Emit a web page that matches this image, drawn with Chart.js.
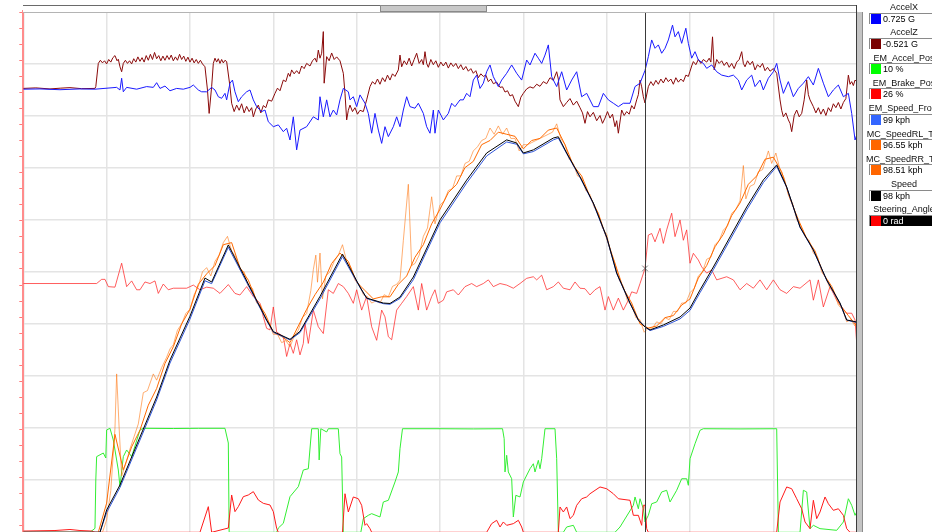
<!DOCTYPE html>
<html><head><meta charset="utf-8">
<script src="https://cdn.jsdelivr.net/npm/chart.js@4.4.1/dist/chart.umd.min.js"></script>
<style>
html,body{margin:0;padding:0;background:#fff;overflow:hidden;width:932px;height:532px;}
#wrap{position:relative;width:932px;height:532px;overflow:hidden;font-family:"Liberation Sans",Arial,sans-serif;}
#c{position:absolute;left:0;top:0;}
.hdr{position:absolute;left:23px;top:5px;width:834px;height:6px;border-top:1px solid #6a6a6a;border-bottom:1px solid #b4b4b4;background:#fff;}
.thumb{position:absolute;left:380px;top:5px;width:107px;height:7px;background:#c8c8c8;border:1px solid #8a8a8a;box-sizing:border-box;}
.rb{position:absolute;left:856px;top:5px;width:1px;height:530px;background:#3c3c3c;}
.sb{position:absolute;left:857px;top:12px;width:5px;height:520px;background:#c4c4c4;border-right:1px solid #8c8c8c;}
.lt{position:absolute;left:846px;width:116px;text-align:center;font-size:9px;color:#111;line-height:10px;white-space:nowrap;}
.lb{position:absolute;left:869px;width:80px;height:11px;background:#fff;border-top:1px solid #8a8a8a;border-left:1px solid #8a8a8a;box-sizing:border-box;}
.lb.dark{background:#000;}
.sq{position:absolute;left:1px;top:0px;width:10px;height:10px;}
.lv{position:absolute;left:13px;top:0px;font-size:9px;line-height:10px;color:#000;white-space:nowrap;}
.lb.dark .lv{color:#fff;}
</style></head>
<body><div id="wrap">
<canvas id="c" width="932" height="540"></canvas>
<div class="hdr"></div><div class="thumb"></div><div class="rb"></div><div class="sb"></div>
<div id="legend"></div>
</div>
<script>
// ---- DATA (time in seconds, 10 s per grid division) ----
const cursorTime = 74.6;
const cursorSteer = 0.29;

// Speed [kph]
const speedSamples = [[0,0],[9.2,0],[10,10.7],[11.6,22.7],[14,45.7],[16,64.9],[17.6,82.6],[20,103.7],[21.8,122],[22.6,120.1],[24.6,137.9],[29.2,101.9],[30,96.3],[32,92.6],[33.2,96.4],[35.6,113.2],[38.3,133.5],[40.4,117.7],[41.2,112.4],[43.2,110],[44,109.8],[45.2,112.9],[46.8,122.5],[50,149.9],[53.2,169],[55.6,182],[58,188.3],[59.2,186.8],[60,182],[61.2,183.5],[63.6,189.2],[64.2,189.8],[65.2,182],[66.8,170.6],[68.4,158],[70,141.7],[71.2,124.4],[72.8,110],[73.8,101.9],[74.6,98.5],[75.2,97.1],[76.8,99.5],[78.8,103.3],[80,107.6],[81.2,116.3],[82.8,127.3],[84.8,141.7],[86.8,156.1],[88.8,169.1],[90.4,176.3],[91.6,165.7],[93.2,146.5],[94.8,135.5],[96.4,121.1],[98,110],[98.8,101.9],[100,100.9]];

// EM_Speed_Front [kph]
const emSpeedSamples = [[0,0],[9.2,0],[10,9.5],[11.6,21.5],[14,44.3],[16,63.5],[17.6,81.2],[20,102.3],[21.8,120.7],[22.6,119.3],[24.6,136.8],[29.2,101.6],[30,96],[32,92.3],[33.2,95.8],[35.6,112],[38.3,132.3],[40.4,117.5],[41.2,112.2],[43.2,109.7],[44,109.4],[45.2,112.2],[46.8,121.2],[50,148.5],[53.2,167.6],[55.6,180.6],[58,187.3],[59.2,186.2],[60,181.6],[61.2,182.7],[63.6,188.3],[64.2,189.2],[65.2,181.7],[66.8,170.3],[68.4,157.7],[70,141.4],[71.2,124.2],[72.8,109.8],[73.8,101.8],[74.6,98.6],[75.2,96.8],[76.8,98.8],[78.8,102.4],[80,106.5],[81.2,115],[82.8,126],[84.8,140.3],[86.8,154.7],[88.8,167.8],[90.4,175.6],[91.6,165.5],[93.2,146.3],[94.8,135.3],[96.4,120.9],[98,109.8],[98.8,101.8],[100,100.7]];

// MC_SpeedRR_TM [kph], one sample per second
const speedRR = [0,0,0,0,0,0,0,0,0,0,
 14,47,30,41,49,61,69,81,89,100,
 107,119,124,128,138,139,127,121,111,105,
 96,94,91,99,107,114,120,129,134,130,
 120,116,112,113,113,119,123,132,138,148,
 155,163,167,175,178,186,188,192,191,190,
 184,188,189,193,194,186,176,171,161,153,
 141,129,117,110,100,98,99,103,104,109,
 112,122,128,137,143,152,158,167,171,179,
 180,173,160,150,141,135,124,118,109,104,
 99];

// MC_SpeedRL_TM [kph]
const speedRLSamples = [[0,0],[9.5,0],[10,6],[10.5,20],[11,50],[11.2,76],[11.5,50],[11.8,27],[12.3,33],[12.8,40],[13.3,46],[13.8,52],[14.4,67],[14.9,68],[15.6,76],[16,73],[16.6,79],[17.2,84],[17.6,88],[18,90],[18.5,97],[19,100],[19.5,105],[20,107],[20.5,114],[21,118],[21.5,125],[22,127],[22.5,123],[23,130],[23.5,133],[24,139],[24.5,142],[25,135],[25.5,132],[26,126],[26.5,125],[27,118],[27.5,117],[28,110],[28.5,109],[29,103],[29.5,100],[30,95],[30.5,95],[31,91],[31.5,92],[32,89],[32.5,94],[33,97],[33.5,103],[34,105],[34.5,116],[34.8,126],[35.1,133],[35.3,120],[35.6,134],[35.9,112],[36.3,123],[36.8,125],[37.3,130],[37.8,133],[38.3,138],[38.8,130],[39.3,127],[39.8,121],[40.3,119],[40.8,114],[41.3,113],[41.8,110],[42.3,111],[42.8,110],[43.3,114],[43.8,113],[44.3,118],[44.8,119],[45.2,121],[45.6,140],[46.2,167],[46.6,128],[47,129],[47.5,133],[48,142],[48.5,146],[49,161],[49.4,148],[50,157],[50.5,159],[51,164],[51.5,165],[52,171],[52.5,171],[53,177],[53.5,178],[54,183],[54.5,185],[55,188],[55.5,189],[56,194],[56.5,191],[57,195],[57.5,191],[58,194],[58.5,189],[59,189],[59.5,183],[60,186],[60.5,186],[61,187],[61.5,188],[62,189],[62.5,190],[63,191],[63.5,192],[64,196],[64.5,189],[65,186],[65.5,179],[66,177],[66.5,171],[67,170],[67.5,164],[68,162],[68.5,156],[69,153],[69.5,146],[70,143],[70.5,134],[71,129],[71.5,121],[72,118],[72.5,111],[73,109],[73.5,103],[74,102],[74.5,96],[75,98],[75.5,98],[76,101],[76.5,100],[77,103],[77.5,102],[78,106],[78.5,106],[79,110],[79.5,110],[80,115],[80.5,117],[81,123],[81.5,125],[82,131],[82.5,132],[83,138],[83.5,140],[84,145],[84.5,147],[85,153],[85.5,155],[86,159],[86.4,176],[86.7,160],[87.2,166],[87.7,167],[88.2,173],[88.7,174],[89.1,179],[89.4,183],[89.8,177],[90.3,182],[90.8,174],[91.3,170],[91.8,162],[92.3,158],[92.8,150],[93.3,147],[93.8,142],[94.3,140],[94.8,134],[95.3,132],[95.8,125],[96.3,122],[96.8,117],[97.3,115],[97.8,109],[98.3,107],[98.8,101],[99.3,102],[99.8,99],[100,101]];

// EM_Accel_Pos [%]
const accelPosSamples = [[0,0],[8,0],[8.6,3.8],[8.7,50.2],[8.8,72.6],[9.6,76.1],[9.9,71.3],[10,98.2],[10.4,99.8],[10.8,88.6],[11.4,59.8],[11.6,43.8],[12,72.6],[12.4,79],[13,72.6],[14,98.2],[14.4,99.8],[18,99.6],[21,99.8],[24.2,99.8],[24.6,85.7],[24.7,0],[30.4,0],[30.6,4.1],[31.2,8.6],[32,34.2],[33,43.8],[33.6,59.8],[34.2,61],[34.6,99.4],[35.4,99.4],[35.5,69.4],[35.7,99.4],[36.4,96.3],[36.6,99.4],[37.8,99.4],[38,75.4],[38.2,72.3],[38.3,35.8],[38.4,0],[40.5,0],[40.8,13.1],[41.4,16.3],[41.8,17.9],[42.8,14.7],[43.2,29.1],[43.8,30.7],[44.6,48.3],[45,57.9],[45.2,80.2],[45.5,99.4],[50,99.4],[54,99.2],[57.5,99.4],[57.7,89.8],[57.8,57.9],[58,73.9],[58.2,57.9],[58.6,51.4],[58.8,14.7],[59.1,35.5],[59.6,33.9],[60,48.3],[60.8,61],[61.2,65.8],[61.4,57.9],[61.8,69.1],[62,61],[62.2,70.6],[62.6,99.4],[63.8,99.4],[64,70.6],[64.2,0],[64.8,0],[65.2,5.1],[66,6.7],[66.4,0],[71,0],[71.6,5.1],[73.2,25.9],[73.4,33.9],[73.8,22.6],[74,32.2],[74.4,22.6],[74.6,10],[75,16.3],[75.4,27.4],[76,29.1],[76.6,38.7],[77.2,40.3],[77.6,29.1],[78.4,40.3],[79,51.4],[79.6,51.4],[79.8,45.1],[80,70.6],[80.6,85],[81.2,97.9],[81.6,99.4],[86,99.2],[90.4,99.4],[90.6,0],[93.2,0],[93.6,40.3],[94,38.7],[94.4,3.5],[94.8,6.7],[95.6,3.5],[97.6,1.9],[98.4,9.9],[99,32.2],[99.4,25.9],[99.8,16.3],[100,19.5]];

// EM_Brake_Pos [%]
const brakePosSamples = [[0,1.2],[3.8,1.7],[5.6,2.7],[6.8,1.7],[8.2,1.2],[8.6,0],[21.2,0],[22.2,24.6],[22.6,0],[24.6,4.1],[25,35.8],[25.4,19.8],[25.8,24.6],[26.4,34.2],[27,35.8],[27.6,39],[28.2,31],[28.8,27.8],[29.6,26.2],[30,19.8],[30.4,3.8],[30.6,0],[38.3,0],[38.6,37],[39,19.5],[39.6,33.9],[40.2,32.2],[40.6,25.9],[41,6.7],[41.2,8.3],[41.6,3.5],[41.8,0],[55.6,0],[56.2,8.3],[56.8,11.5],[57.2,5.1],[57.6,9.9],[58,6.7],[58.8,8.3],[59.4,11.5],[59.8,5.1],[60,0],[64.2,0],[64.4,24.3],[64.8,19.5],[65.2,24.3],[65.6,13.1],[66,16.3],[66.4,25.9],[67,32.2],[67.6,33.9],[68,37],[69.2,43.5],[70,41.8],[70.8,37],[71.4,32.2],[72.8,30.7],[73.2,16.3],[73.8,16.3],[74.2,6.7],[74.4,25.9],[74.6,26],[74.8,3.5],[75,0],[90.4,0],[90.8,29.1],[91.6,43.5],[92.2,41.8],[92.8,32.2],[93.4,22.6],[93.8,9.9],[94.4,3.5],[94.8,30.7],[95.2,13.1],[95.6,19.5],[96.2,33.9],[96.6,27.4],[97.2,21.1],[97.8,22.6],[98.4,16.3],[98.8,3.5],[99.2,0],[100,0]];

// Steering_Angle [rad]
const steerSamples = [[0,0],[8.8,0],[9.4,0.08],[9.8,0.08],[10.2,-0.06],[11,-0.07],[11.8,0.39],[12.4,-0.06],[13,0.05],[13.6,-0.12],[14,-0.12],[14.6,0.03],[15.2,0],[15.8,0.05],[16.2,-0.19],[16.8,-0.01],[17.4,-0.12],[18,-0.09],[19.6,-0.09],[20.4,-0.03],[21.2,-0.12],[22,-0.07],[22.8,-0.09],[23.6,-0.19],[24.6,-0.02],[25.4,-0.19],[26,-0.22],[26.8,-0.06],[27.6,-0.25],[28.4,-0.38],[28.8,-0.64],[29.2,-0.86],[29.6,-0.89],[30,-0.45],[30.4,-0.93],[31.2,-1.02],[31.6,-1.4],[32,-1.15],[32.4,-1.34],[32.8,-1.08],[33.2,-1.37],[33.6,-1.15],[33.8,-0.76],[34.2,-1.15],[34.8,-0.51],[35.4,-0.83],[36,-0.96],[36.6,-0.12],[37.2,-0.19],[37.8,0],[38.4,-0.06],[39,-0.19],[39.6,-0.38],[40,-0.12],[40.6,-0.51],[41.2,-0.25],[41.8,-0.83],[42.4,-1.09],[43,-0.51],[43.4,-0.64],[43.8,-1.02],[44.2,-1.08],[44.8,-0.51],[45.4,-0.38],[46,-0.25],[46.8,-0.06],[47.4,-0.51],[47.8,0],[48.4,-0.51],[49,-0.25],[49.4,-0.12],[49.8,-0.38],[50.4,-0.32],[50.8,-0.16],[51.6,-0.12],[52.2,-0.22],[53,-0.06],[53.8,0],[54.4,-0.06],[55.2,0],[55.8,0.07],[56.4,-0.06],[57.2,0],[58,-0.03],[58.8,-0.09],[59.6,0],[60.4,0.1],[61.2,0.13],[61.6,0.07],[62.2,0.16],[62.8,-0.12],[63.6,-0.06],[64.2,0.03],[64.8,-0.09],[65.6,-0.12],[66.2,0.03],[66.8,-0.09],[67.4,-0.1],[68,-0.22],[68.6,-0.12],[69.2,-0.06],[69.8,-0.51],[70.2,-0.25],[70.8,-0.51],[71.4,-0.28],[72,-0.51],[72.6,-0.32],[73,-0.16],[73.6,-0.19],[74,0],[74.6,0.29],[75,0.93],[75.4,0.96],[75.8,0.8],[76.4,1.06],[76.8,0.77],[77.2,1.03],[77.8,1.35],[78.2,0.9],[78.8,1.22],[79.2,0.83],[79.6,1.03],[80,0.39],[80.4,0.58],[81,0.45],[81.4,0.32],[82,0.2],[82.6,0.26],[83.2,0.07],[84.4,0.13],[85.2,0.07],[86,-0.12],[86.8,0],[87.6,-0.09],[88.4,0.07],[89.2,-0.12],[90,0.07],[90.8,-0.12],[91.6,-0.19],[92.4,-0.06],[93.2,-0.09],[94.4,0.07],[94.8,-0.32],[95.4,0.07],[96,-0.45],[96.8,-0.06],[97.6,-0.32],[98.2,-0.45],[98.8,-0.57],[99.4,-0.57],[99.8,-0.7],[100,-1.14]];

// AccelX [G]
const accelXSamples = [[0,0.01],[2,0.02],[4.4,-0.01],[6.8,0.02],[8.6,0.01],[11.2,0.08],[11.6,-0.02],[11.8,0.43],[12,-0.09],[12.4,0.08],[13.6,0.01],[14.8,0.11],[15.6,0.08],[16,0.26],[16.4,0.04],[17,0.13],[17.6,-0.05],[18.4,0.04],[19.2,0.01],[20,0.08],[20.4,0.17],[21,-0.02],[21.4,-0.09],[22,-0.09],[22.6,0.08],[23,-0.02],[23.4,-0.28],[23.8,-0.34],[24.2,-0.15],[24.4,-0.4],[24.8,0.24],[25.1,0.36],[25.4,-0.09],[25.8,-0.47],[26.2,-0.28],[26.8,-0.09],[27.2,-0.02],[27.6,-0.4],[28,-0.66],[28.6,-0.85],[29,-0.79],[29.4,-1.24],[30,-1.43],[30.6,-1.36],[31.2,-1.62],[31.6,-1.49],[32,-1.94],[32.4,-1.05],[32.8,-2.32],[33.2,-1.56],[34,-1.43],[34.8,-1.05],[35.4,-1.17],[35.6,-0.28],[36,-1.05],[36.4,-0.4],[36.8,-1.05],[37.2,-0.79],[37.6,-0.98],[38,-0.4],[38.4,0.04],[39,-0.09],[39.2,-0.4],[39.6,-0.28],[40,-0.66],[40.4,-0.21],[41,-0.53],[41.4,-0.92],[41.8,-1.68],[42.2,-0.92],[42.6,-1.56],[43,-2.07],[43.4,-1.43],[43.8,-1.81],[44.4,-1.43],[44.8,-1.05],[45.2,-1.43],[45.6,-0.79],[46,-0.28],[46.4,-0.66],[47,-0.72],[47.4,-0.53],[48,-0.92],[48.4,-1.43],[48.8,-1.68],[49.2,-0.79],[49.4,-1.68],[49.8,-0.79],[50.4,-1.17],[51,-0.92],[51.4,-0.53],[51.8,-0.66],[52.4,-0.4],[52.8,-0.4],[53.2,-0.15],[53.6,-0.28],[54,0.36],[54.4,0.55],[54.8,0.04],[55.2,0.24],[55.6,0.68],[56,0.94],[56.4,0.49],[57,0.11],[57.4,0.36],[58,0.62],[58.6,0.94],[59.2,0.62],[59.8,0.36],[60.4,1.13],[60.8,0.94],[61.4,1.39],[61.8,1.2],[62.2,1],[62.6,1.32],[63,1.71],[63.4,0.49],[64,0.11],[64.6,0.68],[65.2,-0.02],[65.8,0.36],[66.4,0.68],[67,-0.28],[67.6,-0.15],[68.4,-0.66],[69,-0.66],[69.6,-0.15],[70.2,-0.4],[70.8,-0.53],[71.4,-0.66],[72,-0.53],[72.8,-0.53],[73.4,0.11],[74,0.24],[74.6,0.73],[75,1.26],[75.4,1.9],[75.8,1.58],[76.2,1.71],[76.6,1.39],[77,1.58],[77.4,1.9],[77.9,2.47],[78.2,2.02],[78.6,2.22],[79,1.77],[79.5,2.35],[79.8,1.77],[80.2,1.2],[80.6,1.45],[81,1.13],[81.6,1],[82,0.81],[82.6,0.94],[83.2,0.68],[83.8,0.55],[84.6,0.49],[85.2,0.55],[85.8,0.36],[86.2,-0.02],[86.8,0.36],[87.4,0.55],[87.8,0.11],[88.4,0.36],[88.8,-0.02],[89.4,0.43],[90,0.68],[90.4,1],[90.8,0.36],[91.2,-0.15],[91.8,0.3],[92.4,-0.28],[93,0.04],[93.6,0.24],[94.2,0.49],[94.8,0.17],[95.4,0.81],[96,0.24],[96.6,-0.28],[97.2,-0.02],[97.8,0.17],[98.4,-0.28],[99,-0.15],[99.4,-0.92],[99.8,-1.94],[100,-1.75]];

// AccelZ [G]
const accelZSamples = [[0,0.04],[1.5,0.06],[3.2,0.02],[4.5,0.05],[5.6,0.07],[7,0.03],[8.6,0.04],[8.7,0.11],[9,1],[9.25,1.12],[9.5,1.02],[9.75,1.1],[10,0.98],[10.25,1.15],[10.5,1.05],[10.75,1.22],[11,1.3],[11.25,1.1],[11.4,1.16],[11.6,0.87],[11.8,0.68],[12,1],[12.25,1.12],[12.5,1],[12.75,1.1],[13,0.98],[13.25,1.18],[13.5,1.05],[13.75,1.25],[14,1.08],[14.25,1.22],[14.5,1.05],[14.75,1.3],[15,1.12],[15.25,1.35],[15.5,1.15],[15.75,1.42],[16,1.18],[16.25,1.3],[16.5,1.1],[16.75,1.28],[17,1.12],[17.25,1.3],[17.5,1.15],[17.75,1.32],[18,1.1],[18.25,1.25],[18.5,1.12],[18.75,1.35],[19,1.15],[19.25,1.28],[19.5,1.08],[19.75,1.24],[20,1.05],[20.25,1.2],[20.5,1.02],[20.75,1.15],[21,1],[21.25,1.12],[21.5,0.98],[21.8,0.87],[22.1,-0.02],[22.3,-0.92],[22.6,0.11],[22.8,1],[23,1.2],[23.2,1.05],[23.4,1.18],[23.6,1],[23.8,1.15],[24,1.02],[24.2,1.12],[24.4,1.07],[24.8,0.11],[25,-0.53],[25.3,-0.85],[25.6,-0.6],[25.9,-0.8],[26.2,-0.55],[26.5,-0.9],[26.8,-0.65],[27.1,-0.85],[27.4,-0.7],[27.6,-1.05],[27.9,-0.75],[28.2,-0.6],[28.5,-0.9],[28.8,-0.62],[29.1,-0.7],[29.4,-0.4],[29.8,-0.45],[30.2,-0.15],[30.5,0.05],[30.8,-0.05],[31.2,0.36],[31.5,0.3],[31.8,0.62],[32,0.5],[32.2,0.75],[32.5,0.6],[32.8,0.72],[33.1,0.6],[33.4,0.9],[33.7,0.8],[34,1],[34.4,0.9],[34.7,1.1],[35,1.2],[35.2,1.05],[35.4,1.51],[35.6,1.2],[35.8,1.39],[36,2.22],[36.1,0.24],[36.4,1.26],[36.7,1.1],[37,1.4],[37.3,1.15],[37.6,1.25],[38,1.1],[38.4,0.62],[38.6,-0.15],[38.8,-1.17],[39,-0.8],[39.2,-0.6],[39.5,-0.85],[39.8,-0.7],[40.1,-0.95],[40.4,-0.8],[40.8,-0.85],[41.2,-0.4],[41.6,0.11],[41.9,0.3],[42.2,0.2],[42.5,0.4],[42.8,0.2],[43.1,0.45],[43.4,0.3],[43.7,0.55],[44,0.36],[44.3,0.6],[44.6,0.5],[45,0.75],[45.2,1.32],[45.4,0.87],[45.7,1.1],[46,0.95],[46.3,1.2],[46.6,0.9],[46.9,1.15],[47.2,1.39],[47.5,1],[47.8,1.15],[48,0.95],[48.2,1.45],[48.4,1],[48.6,0.85],[48.9,1.15],[49.2,0.95],[49.5,1.1],[49.8,0.85],[50.1,1.05],[50.4,0.9],[50.7,1.05],[51,0.82],[51.3,1.02],[51.6,0.88],[51.9,1],[52.2,0.8],[52.5,0.95],[52.8,0.75],[53.1,0.88],[53.4,0.7],[53.7,0.8],[54,0.62],[54.3,0.72],[54.6,0.45],[54.9,0.6],[55.2,0.5],[55.5,0.55],[55.8,0.3],[56.1,0.4],[56.4,0.22],[56.8,0.28],[57.2,0.08],[57.5,0.1],[57.8,-0.1],[58.1,-0.05],[58.4,-0.25],[58.7,-0.2],[59,-0.45],[59.4,-0.66],[59.7,-0.3],[60,-0.15],[60.4,0.02],[60.8,0.1],[61.2,0.05],[61.6,0.2],[62,0.12],[62.4,0.3],[62.8,0.22],[63.2,0.45],[63.6,0.35],[64,0.68],[64.2,0.4],[64.4,-0.4],[64.8,-0.66],[65.2,-0.5],[65.6,-0.35],[66,-0.6],[66.4,-0.45],[66.8,-0.7],[67.1,-0.9],[67.4,-1.3],[67.7,-0.85],[68,-1.05],[68.4,-0.88],[68.8,-1.2],[69.2,-1],[69.5,-1.3],[69.8,-1.1],[70.1,-0.85],[70.4,-1.1],[70.7,-0.95],[71,-1.43],[71.2,-1.2],[71.4,-1.68],[71.8,-0.79],[72.1,-1],[72.4,-0.85],[72.7,-0.95],[73,-0.62],[73.3,-0.75],[73.6,-0.4],[73.8,-0.2],[74,0.36],[74.2,0.1],[74.4,-0.28],[74.6,-0.52],[75,0.11],[75.3,0.3],[75.6,0.15],[75.9,0.35],[76.2,0.2],[76.5,0.4],[76.8,0.25],[77.1,0.45],[77.4,0.3],[77.7,0.4],[78,0.2],[78.3,0.45],[78.6,0.28],[78.9,0.4],[79.2,0.3],[79.5,0.55],[79.8,0.5],[80,0.7],[80.2,0.9],[80.4,1.07],[80.7,0.95],[81,1.15],[81.3,1],[81.6,1.15],[82,1.05],[82.3,1.2],[82.5,1.05],[82.7,2.02],[82.9,0.75],[83.2,1.15],[83.5,1],[83.8,1.1],[84.1,0.92],[84.4,1.05],[84.7,0.85],[85,1],[85.3,0.8],[85.6,1.05],[85.9,1.15],[86.2,1.45],[86.4,1],[86.6,0.87],[86.9,1.1],[87.2,0.95],[87.5,1.08],[87.8,0.75],[88.1,0.95],[88.4,0.85],[88.7,1],[89,0.72],[89.3,0.85],[89.6,0.7],[90,0.8],[90.4,0.62],[90.8,-0.4],[91,-0.8],[91.2,-1.05],[91.5,-0.9],[91.8,-1.17],[92,-1.3],[92.2,-1.62],[92.5,-1],[92.8,-0.79],[93.1,-1.05],[93.4,-0.92],[93.7,-0.4],[94,0.36],[94.2,-0.2],[94.4,-0.4],[94.8,-0.66],[95.1,-0.9],[95.4,-0.7],[95.7,-0.95],[96,-0.75],[96.3,-1],[96.6,-0.7],[96.9,-0.85],[97.2,-0.55],[97.5,-0.7],[97.8,-0.5],[98.1,-0.75],[98.4,-0.5],[98.7,-0.35],[99,0.55],[99.2,0.2],[99.4,0.3],[99.6,0.15],[99.8,0.36],[100,0.3]];

// Legend
const legendNames = ["AccelX","AccelZ","EM_Accel_Pos","EM_Brake_Pos","EM_Speed_Front","MC_SpeedRL_TM","MC_SpeedRR_TM","Speed","Steering_Angle"];
const legendColors = ["#0000ff","#7a0000","#00ff00","#ff0000","#3366ff","#ff6600","#ff6600","#000000","#ff0000"];
const legendValues = ["0.725 G","-0.521 G","10 %","26 %","99 kph","96.55 kph","98.51 kph","98 kph","0 rad"];

// ---- build legend ----
const lg = document.getElementById('legend');
legendNames.forEach((n,i)=>{
  const y0 = 2 + 25.3*i;
  const t = document.createElement('div'); t.className='lt'; t.style.top=(y0)+'px'; t.textContent=n; lg.appendChild(t);
  const b = document.createElement('div'); b.className='lb'+(i===8?' dark':''); b.style.top=(y0+10.5)+'px';
  const s = document.createElement('div'); s.className='sq'; s.style.background=legendColors[i]; b.appendChild(s);
  const v = document.createElement('div'); v.className='lv'; v.textContent=legendValues[i]; b.appendChild(v);
  lg.appendChild(b);
});

const pts = a => a.map(p=>({x:p[0],y:p[1]}));
const line = (label, data, color, axis, extra) => Object.assign({label, data, borderColor:color, backgroundColor:color, borderWidth:1, pointRadius:0, tension:0, fill:false, yAxisID:axis}, extra||{});

const cursorPlugin = {
  id:'cursor',
  afterDatasetsDraw(chart){
    const {ctx, chartArea, scales} = chart;
    const x = Math.round(scales.x.getPixelForValue(cursorTime)) + 0.5;
    ctx.save(); ctx.strokeStyle='#3a3a3a'; ctx.lineWidth=1;
    ctx.beginPath(); ctx.moveTo(x, chartArea.top); ctx.lineTo(x, chartArea.bottom+10); ctx.stroke(); ctx.restore();
  }
};

new Chart(document.getElementById('c'), {
  type:'line',
  data:{datasets:[
    line('cursor', [{x:cursorTime,y:cursorSteer}], '#7a7a7a', 'ySteer', {showLine:false, pointRadius:4, pointStyle:'crossRot', pointBorderWidth:1}),
    line('Speed', pts(speedSamples), '#000000', 'ySpd'),
    line('EM_Speed_Front', pts(emSpeedSamples), '#2f55d8', 'ySpd'),
    line('MC_SpeedRR_TM', speedRR.map((v,i)=>({x:i,y:v})), '#ff6a00', 'ySpd'),
    line('MC_SpeedRL_TM', pts(speedRLSamples), 'rgba(255,120,20,0.6)', 'ySpd'),
    line('Steering_Angle', pts(steerSamples), 'rgba(255,40,40,0.75)', 'ySteer'),
    line('EM_Brake_Pos', pts(brakePosSamples), '#ff1a1a', 'yPed'),
    line('EM_Accel_Pos', pts(accelPosSamples), '#33ee33', 'yPed'),
    line('AccelX', pts(accelXSamples), '#1a1aff', 'yAcc'),
    line('AccelZ', pts(accelZSamples), '#8a0a0a', 'yAcc')
  ]},
  options:{
    responsive:false, animation:false, devicePixelRatio:1,
    layout:{padding:{left:19.3, right:75.3, top:11.3, bottom:7.7}},
    plugins:{legend:{display:false}, tooltip:{enabled:false}},
    scales:{
      x:{type:'linear', min:0, max:100, position:'bottom',
         ticks:{display:false, stepSize:10}, grid:{color:'#e4e4e4', lineWidth:1.5, drawTicks:false}, border:{display:false}},
      ySpd:{type:'linear', position:'right', min:0, max:250,
         ticks:{display:false, stepSize:25}, grid:{color:'#e4e4e4', lineWidth:1.5, drawTicks:false}, border:{display:false}},
      yL:{type:'linear', position:'left', min:-0.456, max:32.106,
         ticks:{display:false, stepSize:1, includeBounds:false},
         grid:{drawOnChartArea:false, drawTicks:true, tickLength:4, color:'#ff7a7a', tickColor:'#ff7a7a'},
         border:{display:true, color:'#ff8c8c', width:2}},
      yPed:{type:'linear', display:false, min:0, max:500},
      yAcc:{type:'linear', display:false, min:-17, max:3},
      ySteer:{type:'linear', display:false, min:-4.775, max:5.225}
    }
  },
  plugins:[cursorPlugin]
});
</script>
</body></html>
